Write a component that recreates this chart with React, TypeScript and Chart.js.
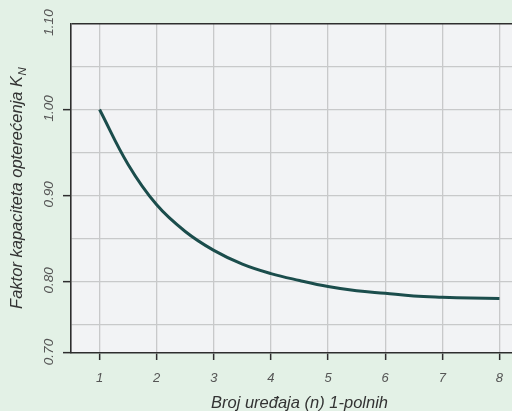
import React, { useEffect, useRef } from 'react';
import { Chart, registerables } from 'chart.js';

Chart.register(...registerables);

// ---- data ----
const nValues = [1, 1.5, 2, 2.5, 3, 3.5, 4, 4.5, 5, 5.5, 6, 6.5, 7, 7.5, 8];
const kValues = [1.0, 0.936, 0.889, 0.858, 0.836, 0.82, 0.809, 0.801, 0.794, 0.789, 0.786, 0.783, 0.7815, 0.7805, 0.78];

const xTickValues = [1, 2, 3, 4, 5, 6, 7, 8];
const xTickLabels = ['1', '2', '3', '4', '5', '6', '7', '8'];

const yTickValues = [0.7166, 0.75, 0.8, 0.85, 0.9, 0.95, 1.0, 1.05, 1.1];
const yTickLabels = ['0.70', '', '0.80', '', '0.90', '', '1.00', '', '1.10'];

const xTitle = 'Broj uređaja (n) 1-polnih';
const yTitle = 'Faktor kapaciteta opterećenja K';
const yTitleSub = 'N';

// ---- styles ----
const PAGE_BG = '#e3f1e6';
const PLOT_BG = '#f2f3f5';
const GRID = '#c8c9ca';
const AXIS = '#2e2e2e';
const LINE = '#1b4d4c';
const TICK_TEXT = '#555555';
const TITLE_TEXT = '#333333';
const FONT = '"Liberation Sans", Arial, Helvetica, sans-serif';

const decorPlugin = {
  id: 'decor',
  beforeDraw(chart: any) {
    const { ctx, chartArea: a } = chart;
    ctx.save();
    ctx.fillStyle = PLOT_BG;
    ctx.fillRect(a.left, a.top, a.right - a.left, a.bottom - a.top);
    ctx.restore();
  },
  afterDraw(chart: any) {
    const { ctx, chartArea: a } = chart;
    const yScale = chart.scales.y;
    ctx.save();
    // rotated y tick labels
    ctx.font = `italic 13.5px ${FONT}`;
    ctx.fillStyle = TICK_TEXT;
    ctx.textAlign = 'center';
    ctx.textBaseline = 'alphabetic';
    yTickValues.forEach((v, i) => {
      const lbl = yTickLabels[i];
      if (!lbl) return;
      const py = yScale.getPixelForValue(v);
      ctx.save();
      ctx.translate(53, py - 1);
      ctx.rotate(-Math.PI / 2);
      ctx.fillText(lbl, 0, 0);
      ctx.restore();
    });

    // y title with subscript
    ctx.fillStyle = TITLE_TEXT;
    const mainFont = `italic 16.5px ${FONT}`;
    const subFont = `italic 11.5px ${FONT}`;
    ctx.font = mainFont;
    const wMain = ctx.measureText(yTitle).width;
    ctx.font = subFont;
    const wSub = ctx.measureText(yTitleSub).width;
    const total = wMain + wSub;
    const cy = (a.top + a.bottom) / 2;
    ctx.save();
    ctx.translate(22, cy);
    ctx.rotate(-Math.PI / 2);
    ctx.textAlign = 'left';
    ctx.font = mainFont;
    ctx.fillText(yTitle, -total / 2, 0);
    ctx.font = subFont;
    ctx.fillText(yTitleSub, -total / 2 + wMain + 0.5, 3.5);
    ctx.restore();

    // x title
    ctx.font = mainFont;
    ctx.textAlign = 'center';
    ctx.fillText(xTitle, (a.left + a.right) / 2, 408);
    ctx.restore();
  },
};

export default function App() {
  const canvasRef = useRef<HTMLCanvasElement | null>(null);

  useEffect(() => {
    if (!canvasRef.current) return;
    const chart = new Chart(canvasRef.current, {
      type: 'line',
      data: {
        datasets: [
          {
            data: nValues.map((n, i) => ({ x: n, y: kValues[i] })),
            borderColor: LINE,
            borderWidth: 3,
            pointRadius: 0,
            tension: 0.4,
            fill: false,
          },
        ],
      },
      options: {
        animation: false,
        responsive: false,
        devicePixelRatio: window.devicePixelRatio || 1,
        layout: { padding: { top: 23.5, left: 0, right: 0, bottom: 0 } },
        plugins: {
          legend: { display: false },
          tooltip: { enabled: false },
          title: { display: false },
        },
        scales: {
          x: {
            type: 'linear',
            min: 0.5,
            max: 8.5,
            afterBuildTicks: (scale: any) => {
              scale.ticks = xTickValues.map((v) => ({ value: v }));
            },
            afterFit: (scale: any) => {
              scale.height = 58;
            },
            ticks: {
              callback: (_v: any, i: number) => xTickLabels[i],
              font: { family: FONT, size: 13, style: 'italic' },
              color: TICK_TEXT,
              padding: 11,
              maxRotation: 0,
              autoSkip: false,
            },
            grid: {
              color: GRID,
              lineWidth: 1.3,
              drawTicks: true,
              tickLength: 7,
              tickColor: AXIS,
              tickWidth: 1.5,
            },
            border: { display: true, color: AXIS, width: 1.6 },
          },
          y: {
            type: 'linear',
            min: yTickValues[0],
            max: yTickValues[yTickValues.length - 1],
            afterBuildTicks: (scale: any) => {
              scale.ticks = yTickValues.map((v) => ({ value: v }));
            },
            afterFit: (scale: any) => {
              scale.width = 71;
            },
            ticks: { display: false },
            grid: {
              color: (c: any) =>
                c.index === yTickValues.length - 1 ? AXIS : c.index === 0 ? 'rgba(0,0,0,0)' : GRID,
              lineWidth: (c: any) => (c.index === yTickValues.length - 1 ? 1.6 : 1.3),
              drawTicks: true,
              tickLength: 8,
              tickColor: (c: any) =>
                yTickLabels[c.index] && c.index !== yTickValues.length - 1 ? AXIS : 'rgba(0,0,0,0)',
              tickWidth: 1.5,
            },
            border: { display: true, color: AXIS, width: 1.6 },
          },
        },
      },
      plugins: [decorPlugin],
    } as any);
    return () => chart.destroy();
  }, []);

  return (
    <div
      style={{
        position: 'fixed',
        left: 0,
        top: 0,
        width: 512,
        height: 411,
        overflow: 'hidden',
        background: PAGE_BG,
      }}
    >
      <canvas ref={canvasRef} width={528} height={411} style={{ display: 'block' }} />
    </div>
  );
}
